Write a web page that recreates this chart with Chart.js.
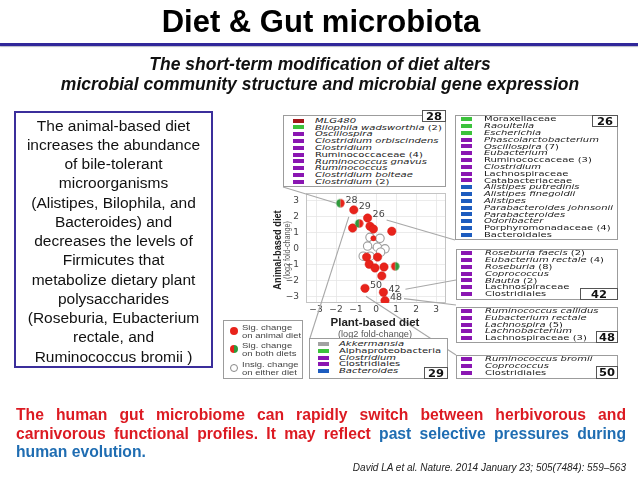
<!DOCTYPE html>
<html>
<head>
<meta charset="utf-8">
<script src="https://cdn.jsdelivr.net/npm/chart.js@4.4.0/dist/chart.umd.min.js"></script>
<style>
  body { margin: 0; width: 638px; height: 479px; overflow: hidden; background: #fff; position: relative;
         font-family: "Liberation Sans", Arial, sans-serif; }
  #plot { position: absolute; left: 0; top: 0; }
  .abs { position: absolute; white-space: nowrap; }
  .box { position: absolute; border: 1px solid #9c9c9c; background: #fff; box-sizing: border-box; }
  .row { position: absolute; left: 0; height: 6.8px; width: 100%; }
  .sw { position: absolute; top: 1.4px; width: 11px; height: 4px; }
  .tx { position: absolute; top: -1.6px; font: 10px "DejaVu Sans"; line-height: 10px; white-space: nowrap;
        transform: scaleY(0.78); transform-origin: 0 50%; color: #1a1a1a; }
  .num { position: absolute; border: 1px solid #555; background: #fff; box-sizing: border-box;
         font: bold 11.5px "DejaVu Sans"; text-align: center; color: #111; }
  .num span { display: inline-block; transform: scaleY(0.9); }
  .dot { position: absolute; width: 8px; height: 8px; border-radius: 50%; box-sizing: border-box; }
  .lg { position: absolute; font-size: 9.5px; line-height: 9px; color: #444; transform: scaleY(0.82);
        transform-origin: 0 50%; white-space: nowrap; }
</style>
</head>
<body>
<canvas id="plot" width="638" height="479"></canvas>

<div class="abs" style="left:0;width:642px;top:5.8px;text-align:center;font-weight:bold;font-size:31px;line-height:31px;color:#000">Diet &amp; Gut microbiota</div>
<div class="abs" style="left:0;top:43px;width:638px;height:2.5px;background:#30279a;box-shadow:0 1px 1px #b8b8c8"></div>
<div class="abs" style="left:0;width:640px;top:53.9px;text-align:center;font-weight:bold;font-style:italic;font-size:17.5px;line-height:20px;color:#111">The short-term modification of diet alters<br>microbial community structure and microbial gene expression</div>

<div class="abs" style="left:14px;top:111px;width:199px;height:257px;box-sizing:border-box;border:2px solid #3b2e9b;padding-top:2.7px;text-align:center;font-size:15.5px;line-height:19.25px;color:#111">The animal-based diet<br>increases the abundance<br>of bile-tolerant<br>microorganisms<br>(Alistipes, Bilophila, and<br>Bacteroides) and<br>decreases the levels of<br>Firmicutes that<br>metabolize dietary plant<br>polysaccharides<br>(Roseburia, Eubacterium<br>rectale, and<br>Ruminococcus bromii )</div>

<div class="abs" style="left:277px;top:250px;transform:translate(-50%,-50%) rotate(-90deg) scaleX(0.8);font-weight:bold;font-size:11.5px;color:#222">Animal-based diet</div>
<div class="abs" style="left:287px;top:250px;transform:translate(-50%,-50%) rotate(-90deg) scaleX(0.8);font-size:9px;color:#555">(log2 fold-change)</div>
<div class="abs" style="left:375px;top:322px;transform:translate(-50%,-50%);font-weight:bold;font-size:11.5px;color:#222">Plant-based diet</div>
<div class="abs" style="left:375px;top:334px;transform:translate(-50%,-50%);font-size:9.2px;color:#555">(log2 fold-change)</div>

<div id="boxes"></div>

<div class="box" style="left:223px;top:320px;width:80px;height:59px">
  <div class="dot" style="left:6px;top:5.5px;background:#e8231b"></div>
  <div class="lg" style="left:18px;top:0.5px">Sig. change<br>on animal diet</div>
  <div class="dot" style="left:6px;top:24px;background:linear-gradient(90deg,#e8231b 50%,#2f9a3c 50%)"></div>
  <div class="lg" style="left:18px;top:19px">Sig. change<br>on both diets</div>
  <div class="dot" style="left:6px;top:43px;background:#fff;border:1px solid #888"></div>
  <div class="lg" style="left:18px;top:38px">Insig. change<br>on either diet</div>
</div>

<div class="abs" style="left:16px;top:406.3px;width:610px;font-weight:bold;font-size:15.7px;line-height:18.5px;color:#dc1a22">
  <div style="text-align:justify;text-align-last:justify">The human gut microbiome can rapidly switch between herbivorous and</div>
  <div style="text-align:justify;text-align-last:justify">carnivorous functional profiles. It may reflect <span style="color:#1f6db2">past selective pressures during</span></div>
  <div style="color:#1f6db2">human evolution.</div>
</div>
<div class="abs" style="right:12px;top:461.5px;font-style:italic;font-size:10px;line-height:12px;color:#222">David LA et al. Nature. 2014 January 23; 505(7484): 559–563</div>

<script>
// log2 fold-change per taxon group: x = plant-based diet, y = animal-based diet
const xTicks = [-3, -2, -1, 0, 1, 2, 3];
const yTicks = [-3, -2, -1, 0, 1, 2, 3];

// significant change on the animal diet only
const animalX = [-1.11, -0.42, -1.17, -0.30, -0.13, 0.79, -0.13, -0.47, 0.08, -0.34, -0.05, 0.40, 0.29, -0.55, 0.37, 0.45];
const animalY = [2.44, 1.93, 1.30, 1.41, 1.24, 1.10, 0.66, -0.52, -0.52, -0.97, -1.20, -1.14, -1.70, -2.48, -2.73, -3.25];
const animalTag = ['29', '26', '', '', '', '', '', '', '', '', '', '', '', '50', '42', '48'];

// significant change on both diets
const bothX = [-1.78, -0.84, 0.96];
const bothY = [2.86, 1.59, -1.10];
const bothTag = ['28', '', ''];

// no significant change
const insigX = [-0.30, 0.20, -0.13, -0.42, 0.07, 0.45, 0.23, -0.64, -0.30];
const insigY = [0.72, 0.66, 0.31, 0.17, 0.10, 0.00, -0.21, -0.46, -0.46];

// taxa listed for each numbered cluster
const swatch = { mlg: '#a3161a', green: '#3cc23c', purple: '#8a16b2', blue: '#1d5cbf', grey: '#a2a2a2' };
const box28Items = [['mlg', 'MLG480'], ['green', 'Bilophila wadsworthia', '(2)'], ['purple', 'Oscillospira'],
  ['purple', 'Clostridium orbiscindens'], ['purple', 'Clostridium'], ['purple', 'Ruminococcaceae', '(4)'],
  ['purple', 'Ruminococcus gnavus'], ['purple', 'Ruminococcus'], ['purple', 'Clostridium bolteae'], ['purple', 'Clostridium', '(2)']];
const box26Items = [['green', 'Moraxellaceae'], ['green', 'Raoultella'], ['green', 'Escherichia'],
  ['purple', 'Phascolarctobacterium'], ['purple', 'Oscillospira', '(7)'], ['purple', 'Eubacterium'],
  ['purple', 'Ruminococcaceae', '(3)'], ['purple', 'Clostridium'], ['purple', 'Lachnospiraceae'], ['purple', 'Catabacteriaceae'],
  ['blue', 'Alistipes putredinis'], ['blue', 'Alistipes finegoldii'], ['blue', 'Alistipes'], ['blue', 'Parabacteroides johnsonii'],
  ['blue', 'Parabacteroides'], ['blue', 'Odoribacter'], ['blue', 'Porphyromonadaceae', '(4)'], ['blue', 'Bacteroidales']];
const box42Items = [['purple', 'Roseburia faecis', '(2)'], ['purple', 'Eubacterium rectale', '(4)'], ['purple', 'Roseburia', '(8)'],
  ['purple', 'Coprococcus'], ['purple', 'Blautia', '(2)'], ['purple', 'Lachnospiraceae'], ['purple', 'Clostridiales']];
const box48Items = [['purple', 'Ruminococcus callidus'], ['purple', 'Eubacterium rectale'], ['purple', 'Lachnospira', '(5)'],
  ['purple', 'Lachnobacterium'], ['purple', 'Lachnospiraceae', '(3)']];
const box50Items = [['purple', 'Ruminococcus bromii'], ['purple', 'Coprococcus'], ['purple', 'Clostridiales']];
const box29Items = [['grey', 'Akkermansia'], ['green', 'Alphaproteobacteria'], ['purple', 'Clostridium'],
  ['purple', 'Clostridiales'], ['blue', 'Bacteroides']];

// box geometry (page px): left, top, width, height, first row centre, swatch x, text x, number box
const boxes = [
  { tag: '28', items: box28Items, l: 283, t: 115, w: 163, h: 72, y0: 5.7, sx: 9, tx: 31, n: [422, 110, 24, 12] },
  { tag: '26', items: box26Items, l: 455, t: 115, w: 163, h: 125, y0: 4.3, sx: 5, tx: 28, n: [592, 115, 26, 12] },
  { tag: '42', items: box42Items, l: 456, t: 249, w: 162, h: 51, y0: 4.3, sx: 4, tx: 28, n: [580, 288, 38, 12] },
  { tag: '48', items: box48Items, l: 456, t: 307, w: 162, h: 36, y0: 4.0, sx: 4, tx: 28, n: [596, 331, 22, 12] },
  { tag: '50', items: box50Items, l: 456, t: 355, w: 162, h: 24, y0: 4.0, sx: 4, tx: 28, n: [596, 366, 22, 13] },
  { tag: '29', items: box29Items, l: 309, t: 338, w: 139, h: 41, y0: 6.0, sx: 8, tx: 29, n: [424, 367, 24, 12] }
];

// leader lines: from a tagged point (offset) to a box corner
const leaders = [
  { tag: '28', dx: -4, dy: 0, x: 283, y: 187 },
  { tag: '29', dx: -5, dy: 7, x: 310, y: 338 },
  { tag: '26', dx: 19, dy: 2, x: 455, y: 240 },
  { tag: '42', dx: 22, dy: -3, x: 456, y: 280 },
  { tag: '48', dx: 19, dy: -2, x: 456, y: 305 },
  { tag: '50', dx: 1, dy: 8, x: 456, y: 355 }
];

const holder = document.getElementById('boxes');
boxes.forEach(b => {
  let html = `<div class="box" style="left:${b.l}px;top:${b.t}px;width:${b.w}px;height:${b.h}px">`;
  b.items.forEach((it, i) => {
    const upright = /(aceae|ales|bacteria)$/.test(it[1]);
    const name = upright ? it[1] : `<i>${it[1]}</i>`;
    const cnt = it[2] ? ' ' + it[2] : '';
    const top = b.y0 - 1 + i * 6.8 - 3.4;
    html += `<div class="row" style="top:${top}px"><div class="sw" style="left:${b.sx}px;background:${swatch[it[0]]}"></div>` +
            `<div class="tx" style="left:${b.tx}px">${name}${cnt}</div></div>`;
  });
  html += '</div>';
  const n = b.n;
  html += `<div class="num" style="left:${n[0]}px;top:${n[1]}px;width:${n[2]}px;height:${n[3]}px;line-height:${n[3] - 2}px"><span>${b.tag}</span></div>`;
  holder.insertAdjacentHTML('beforeend', html);
});

function splitDot(r, leftColor, rightColor) {
  const c = document.createElement('canvas');
  const s = Math.ceil(r * 2) + 2;
  c.width = c.height = s;
  const g = c.getContext('2d');
  const m = s / 2;
  g.beginPath(); g.moveTo(m, m); g.arc(m, m, r, Math.PI / 2, Math.PI * 1.5); g.fillStyle = leftColor; g.fill();
  g.beginPath(); g.moveTo(m, m); g.arc(m, m, r, -Math.PI / 2, Math.PI / 2); g.fillStyle = rightColor; g.fill();
  return c;
}
const RED = '#e8231b', GREEN = '#2f9a3c';
const greenLeft = splitDot(4.2, GREEN, RED);
const redLeft = splitDot(4.2, RED, GREEN);

const toPts = (xs, ys) => xs.map((x, i) => ({ x: x, y: ys[i] }));
const minus = v => (v < 0 ? '\u2212' + Math.abs(v) : String(v));

const overlay = {
  id: 'overlay',
  beforeDatasetsDraw(chart) {
    const a = chart.chartArea, ctx = chart.ctx;
    ctx.save();
    ctx.strokeStyle = '#c4c4c4';
    ctx.lineWidth = 1;
    ctx.strokeRect(a.left + 0.5, a.top + 0.5, a.right - a.left - 1, a.bottom - a.top - 1);
    ctx.restore();
  },
  afterDraw(chart) {
    const ctx = chart.ctx, xs = chart.scales.x, ys = chart.scales.y;
    const tagged = {};
    [[bothX, bothY, bothTag], [animalX, animalY, animalTag]].forEach(([px, py, tg]) => {
      tg.forEach((t, i) => { if (t) tagged[t] = [xs.getPixelForValue(px[i]), ys.getPixelForValue(py[i])]; });
    });
    ctx.save();
    ctx.strokeStyle = '#a8a8a8';
    ctx.lineWidth = 1.1;
    leaders.forEach(l => {
      const p = tagged[l.tag];
      ctx.beginPath();
      ctx.moveTo(p[0] + l.dx, p[1] + l.dy);
      ctx.lineTo(l.x, l.y);
      ctx.stroke();
    });
    ctx.font = '9.5px "DejaVu Sans"';
    ctx.fillStyle = '#444';
    ctx.textAlign = 'left';
    ctx.textBaseline = 'middle';
    Object.keys(tagged).forEach(t => ctx.fillText(t, tagged[t][0] + 5, tagged[t][1] - 3));
    ctx.restore();
  }
};

new Chart(document.getElementById('plot'), {
  type: 'scatter',
  data: {
    datasets: [
      { label: 'Sig. change on both diets', data: toPts(bothX, bothY), pointStyle: [greenLeft, greenLeft, redLeft] },
      { label: 'Sig. change on animal diet', data: toPts(animalX, animalY), backgroundColor: RED, borderColor: '#d81a14',
        borderWidth: 0.5, pointRadius: ctx => (ctx.dataIndex === 6 ? 2.6 : 4.2) },
      { label: 'Insig. change on either diet', data: toPts(insigX, insigY), backgroundColor: '#fff', borderColor: '#9e9e9e',
        borderWidth: 1.1, pointRadius: 4.2 }
    ]
  },
  options: {
    responsive: false,
    animation: false,
    events: [],
    layout: { padding: { left: 286, right: 192, top: 193, bottom: 162 } },
    plugins: { legend: { display: false }, tooltip: { enabled: false } },
    scales: {
      x: {
        type: 'linear', min: -3.5, max: 3.5,
        afterBuildTicks: s => { s.ticks = xTicks.map(v => ({ value: v })); },
        afterFit: s => { s.height = 14; },
        grid: { color: '#e6e6e6', lineWidth: 0.8, drawTicks: false },
        border: { display: false },
        ticks: { callback: minus, font: { family: 'DejaVu Sans', size: 9 }, color: '#444', padding: 1, maxRotation: 0 }
      },
      y: {
        type: 'linear', min: -3.4, max: 3.5,
        afterBuildTicks: s => { s.ticks = yTicks.map(v => ({ value: v })); },
        afterFit: s => { s.width = 20; },
        grid: { color: '#e6e6e6', lineWidth: 0.8, drawTicks: false },
        border: { display: false },
        ticks: { callback: minus, font: { family: 'DejaVu Sans', size: 9 }, color: '#444', padding: 7 }
      }
    }
  },
  plugins: [overlay]
});
</script>
</body>
</html>
